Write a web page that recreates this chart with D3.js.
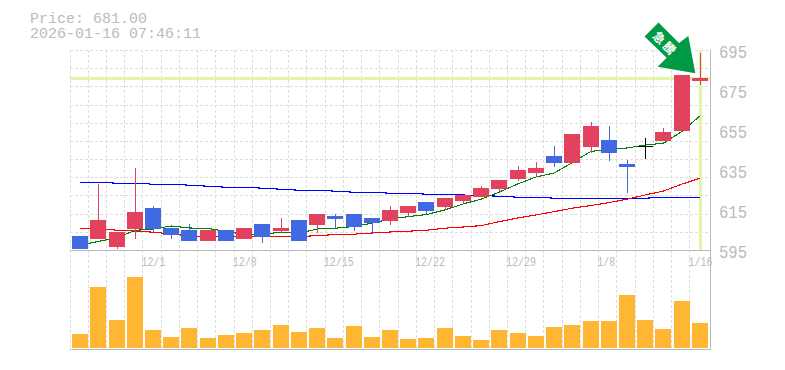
<!DOCTYPE html>
<html><head><meta charset="utf-8">
<style>html,body{margin:0;padding:0;background:#fff}svg{display:block}</style>
<script src="https://cdn.jsdelivr.net/npm/d3@7"></script></head>
<body><div id="c"></div>
<script>
const dates=["11/25","11/26","11/27","11/28","12/1","12/2","12/3","12/4","12/5","12/8","12/9","12/10","12/11","12/12","12/15","12/16","12/17","12/18","12/19","12/22","12/23","12/24","12/25","12/26","12/29","12/30","1/5","1/6","1/7","1/8","1/9","1/13","1/14","1/15","1/16"];
const labeled=["12/1","12/8","12/15","12/22","12/29","1/8","1/16"];
const opens=[602,600.5,596.5,605.5,616,606,605,599.5,605,600.5,608,604.5,610,607.5,612,613,611,609.5,613.5,619,616.5,619.5,621.5,625.5,630.5,633.5,642,638.5,646.5,650,638,647,649.5,654.5,679.5];
const closes=[595.5,610,604,614,605.5,602.5,599.5,605,599.5,606,601.5,606,599.5,613,610.5,606.5,608.5,615,617,614.5,621,622.5,626,630,635,636,638.5,653,657,643.5,636.5,647,654,682.5,681];
const highs=[602,628,604,636,617,606,608,605,605,606,608,611,610,613,613,613,611,617,617,619,621,622.5,627,630,637,639,647,653,659,657,640,651,656,682.5,693.5];
const lows=[595.5,600.5,595.5,600.5,603.5,600.5,599.5,599.5,599.5,600.5,598.5,603.5,599.5,603.5,605.5,604.5,603.5,607.5,611.5,613,615,618.5,621.5,624.5,629.5,631.5,636.5,638.5,643.5,639.5,623.5,640.5,649.5,654.5,677.5];
const volumes=[14,61,28,71,18,11,20,10,13,15,18,23,16,20,10,22,11,18,9,10,20,12,8,18,15,12,21,23,27,27,53,28,19,47,25];
const maShort=[597.5,599.3,601,604.8,605.5,607,606,605.8,604.3,602.8,602.8,603.9,603.3,605.5,605.9,606.7,608.4,610.5,611.7,612.7,615,618,620.4,624,628,631.5,633.5,638.7,644.2,645.5,646,647.5,648.4,654.2,662];
const maMid=[605.9,605.9,604.9,604.5,603.9,603,602,601.9,601.9,601.9,601.9,601.9,601.7,602.2,602.7,602.9,603.5,604,604.4,604.9,605.9,606.5,607.2,609.2,611,612.5,614.2,615.9,617.2,618.7,620.4,622.5,624.5,627.9,630.9];
const maLong=[628.9,628.9,628.4,628.4,627.9,627.9,627.4,626.9,626.4,626.4,625.9,625.4,624.9,624.9,624.4,623.9,623.9,623.4,623.4,622.9,622.9,622.5,622.2,621.9,621.4,621.4,620.9,620.9,620.9,620.9,620.9,620.9,621.4,621.4,621.4];
const priceTicks=[595,615,635,655,675,695];
const currentPrice=681;
const infoLines=["Price: 681.00","2026-01-16 07:46:11"];
const arrowWord="急騰";

const W=785,H=370,L=71,R=709,T=50,B=250,VB=348;
const svg=d3.select("#c").append("svg").attr("width",W).attr("height",H);
const x=d3.scaleBand().domain(dates).range([L,R]);
const cx=d=>x(d)+x.bandwidth()/2;
const y=d3.scaleLinear().domain([595,695]).range([B,T]);
const v=d3.scaleLinear().domain([0,100]).range([VB,VB-100]);
const mono="'Liberation Mono',monospace", grey="#bbb";

// grid
const g=svg.append("g").attr("shape-rendering","crispEdges").attr("stroke","#ddd").attr("stroke-dasharray","3 2");
d3.range(12).forEach(i=>{const yy=Math.round(T+i*(B-T)/11)+.5;g.append("line").attr("x1",70).attr("x2",710).attr("y1",yy).attr("y2",yy)});
dates.forEach(d=>{const xx=Math.floor(x(d))-.5;g.append("line").attr("x1",xx).attr("x2",xx).attr("y1",T).attr("y2",350)});

// highlights
const hl="#e2f5a6";
svg.append("rect").attr("x",70).attr("width",640).attr("y",y(currentPrice)-1).attr("height",3).attr("fill",hl);
svg.append("rect").attr("x",Math.round(cx("1/16"))-1).attr("width",3).attr("y",T).attr("height",B-T).attr("fill",hl);

// frame
const f=svg.append("g").attr("stroke",grey).attr("shape-rendering","crispEdges");
f.append("line").attr("x1",70).attr("x2",711).attr("y1",250.5).attr("y2",250.5);
f.append("line").attr("x1",70).attr("x2",711).attr("y1",349.5).attr("y2",349.5);
f.append("line").attr("x1",710.5).attr("x2",710.5).attr("y1",50).attr("y2",350);

// MA lines
const line=d3.line().x((_,i)=>cx(dates[i])).y(d=>y(d));
[[maLong,"#0000ff"],[maMid,"#ff0000"],[maShort,"#008000"]].forEach(([s,c])=>{
  svg.append("path").attr("d",line(s)).attr("fill","none").attr("stroke",c).attr("stroke-width",1.1).attr("shape-rendering","crispEdges");
});

// candles
const up="#e3425f",down="#4169e1";
const col=i=>closes[i]>opens[i]?up:closes[i]<opens[i]?down:"#000";
const cg=svg.append("g").attr("shape-rendering","crispEdges");
dates.forEach((d,i)=>{
  const c=Math.round(cx(d));
  cg.append("line").attr("x1",c+.5).attr("x2",c+.5).attr("y1",y(highs[i])).attr("y2",y(lows[i])).attr("stroke",col(i));
  const top=y(Math.max(opens[i],closes[i])),bot=y(Math.min(opens[i],closes[i]));
  if(opens[i]===closes[i]) cg.append("line").attr("x1",c-7).attr("x2",c+8).attr("y1",top+.5).attr("y2",top+.5).attr("stroke",col(i));
  else cg.append("rect").attr("x",c-8).attr("width",16).attr("y",top).attr("height",bot-top).attr("fill",col(i));
});

// volume
svg.append("g").selectAll("rect").data(volumes).join("rect").attr("shape-rendering","crispEdges")
  .attr("x",(_,i)=>Math.round(cx(dates[i]))-8).attr("width",16)
  .attr("y",d=>v(d)).attr("height",d=>VB-v(d)).attr("fill","#ffb733");

// axis labels
svg.append("g").selectAll("text").data(priceTicks).join("text").text(d=>d)
  .attr("x",719).attr("y",d=>y(d)+8).attr("font-family",mono).attr("font-size",18).attr("fill",grey)
  .attr("textLength",28).attr("lengthAdjust","spacingAndGlyphs");
svg.append("g").selectAll("text").data(labeled).join("text").text(d=>d)
  .attr("x",d=>cx(d)-11.5).attr("y",266).attr("font-family",mono).attr("font-size",13.5).attr("fill",grey)
  .attr("textLength",d=>d.length*6).attr("lengthAdjust","spacingAndGlyphs");
svg.append("g").selectAll("text").data(infoLines).join("text").text(d=>d)
  .attr("x",30).attr("y",(_,i)=>23+i*15).attr("font-family",mono).attr("font-size",15).attr("fill",grey);

// arrow
const arrow=[[644.5,36.5],[658.5,22.5],[679,43],[688.3,36],[695.3,73.3],[657.7,66.7],[666.7,57.7]];
svg.append("polygon").attr("points",arrow.join(" ")).attr("fill","#009944").attr("stroke","#fff").attr("stroke-width",1.5).attr("paint-order","stroke");
svg.append("text").text(arrowWord).attr("transform","translate(665,44) rotate(45)").attr("text-anchor","middle").attr("dy","0.35em")
  .attr("font-family","'Noto Sans CJK JP'").attr("font-weight","700").attr("font-size",12).attr("letter-spacing",2.5).attr("fill","#fff");
</script></body></html>
